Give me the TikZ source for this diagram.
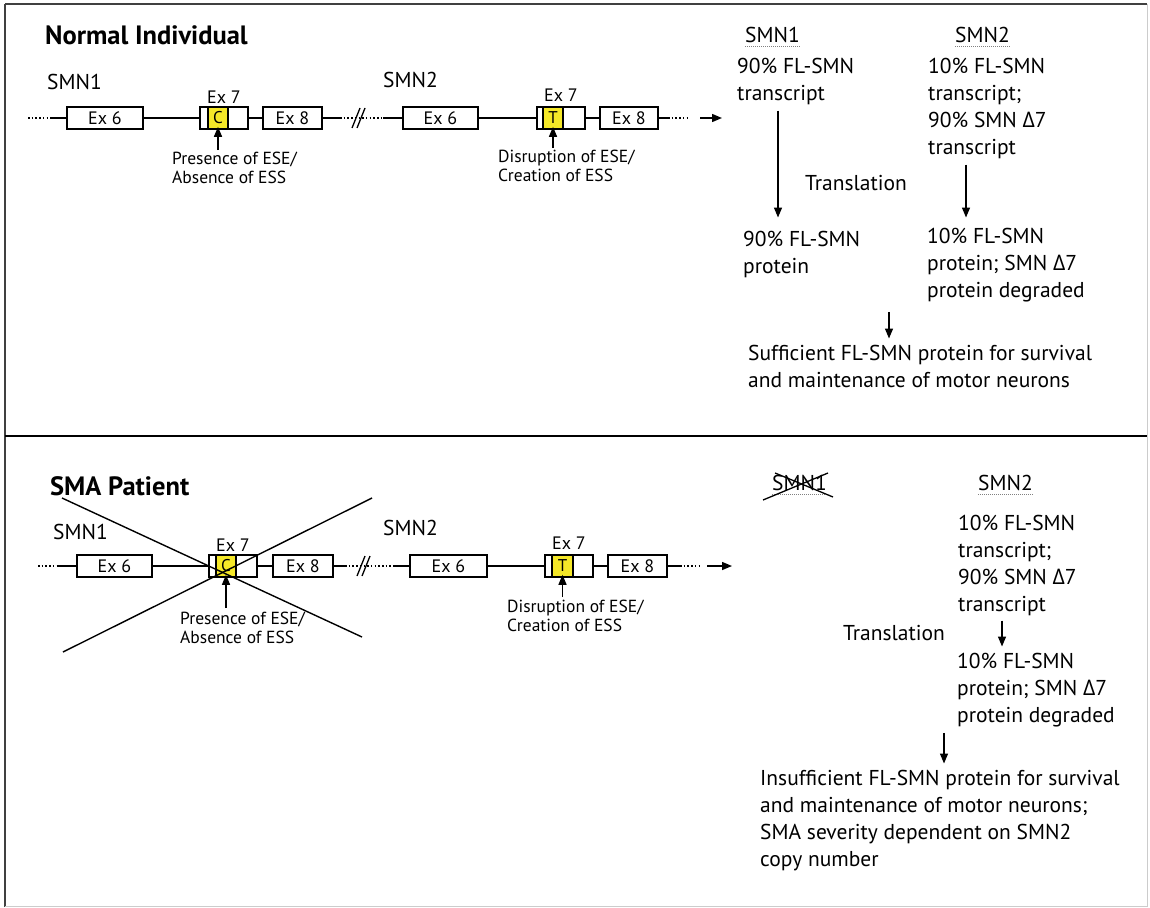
\documentclass[tikz,border=0pt]{standalone}
\usepackage{fontspec}
\setmainfont{PT Sans}
\newfontfamily\dfont{Open Sans}
\usetikzlibrary{arrows.meta}
\definecolor{exy}{RGB}{245,232,40}
\newcommand\dlt{{\dfont Δ}}
\begin{document}
\begin{tikzpicture}[x=1pt,y=-1pt,
  exon/.style={draw, line width=1.3pt, minimum height=22pt, inner sep=0, font=\fontsize{18}{20}\selectfont},
  base/.style={draw, fill=exy, line width=1.6pt, minimum height=22pt, inner sep=0, font=\fontsize{17}{19}\selectfont},
  gline/.style={line width=1.3pt},
  dline/.style={line width=1.3pt, dash pattern=on 1.5pt off 2.2pt},
  arr/.style={line width=1.4pt, -{Triangle[length=10pt,width=8pt]}},
  big/.style={font=\fontsize{21.5}{27}\selectfont, inner sep=0, align=left, anchor=north west},
  lbl/.style={font=\fontsize{21.5}{27}\selectfont, inner sep=0, anchor=west},
  small/.style={font=\fontsize{17.5}{19}\selectfont, inner sep=0, align=left, anchor=north west},
  exlab/.style={font=\fontsize{18}{20}\selectfont, inner sep=0},
  title/.style={font=\fontsize{26.5}{30}\selectfont\bfseries, inner sep=0, anchor=west},
  uline/.style={gray, line width=1pt, dash pattern=on 1pt off 1pt},
  frame/.style={line width=2pt, black!75},
  light/.style={line width=1pt, black!20}
]
\useasboundingbox (0,0) rectangle (1150,907);
\fill[white] (0,0) rectangle (1150,907);
% frame
\draw[frame] (5,4) -- (1147,4);
\draw[frame] (5,4) -- (5,907);
\draw[line width=2pt, black] (5,436) -- (1147,436);
\draw[light] (1147,4) -- (1147,907);
\draw[light] (5,906) -- (1147,906);

%================ TOP PANEL ================
\node[title] (ttl1) at (45,35) {Normal Individual};
\node[lbl] (g1) at (47,82) {SMN1};
\node[lbl] (g2) at (383,80) {SMN2};

% SMN1 gene
\node[exon, minimum width=76pt] (a6) at (105,118) {Ex 6};
\node[exon, minimum width=48pt] (a7) at (224,118) {};
\node[base, minimum width=20pt] (ac) at (218,118) {C};
\node[exon, minimum width=59pt] (a8) at (292.5,118) {Ex 8};
\node[exlab] (a7l) at (224,97) {Ex 7};
\coordinate (a0) at (28,118); \coordinate (a1) at (50,118);
\draw[dline] (a0) -- (a1); \draw[gline] (a1) -- (a6.west);
\draw[gline] (a6.east) -- (a7.west);
\draw[gline] (a7.east) -- (a8.west);
\coordinate (a9) at (340,118); \coordinate (a10) at (383,118);
% SMN2 gene
\node[exon, minimum width=75pt] (b6) at (440.5,118) {Ex 6};
\node[exon, minimum width=48pt] (b7) at (561,118) {};
\node[base, minimum width=20pt] (bt) at (553,118) {T};
\node[exon, minimum width=58pt] (b8) at (629,118) {Ex 8};
\node[exlab] (b7l) at (561,95) {Ex 7};
\draw[gline] (a8.east) -- (a9); \draw[dline] (a9) -- (a10); \draw[gline] (a10) -- (b6.west);
\draw[gline] (352,128) -- (360,108);
\draw[gline] (357,128) -- (365,108);
\draw[gline] (b6.east) -- (b7.west);
\draw[gline] (b7.east) -- (b8.west);
\coordinate (b9) at (668,118); \coordinate (b10) at (690,118);
\coordinate (b11) at (700,118); \coordinate (b12) at (722,118);
\draw[gline] (b8.east) -- (b9); \draw[dline] (b9) -- (b10);
\draw[arr] (b11) -- (b12);
% annotations
\node[small] (an1) at (172,152) {Presence of ESE/\\Absence of ESS};
\coordinate (an1a) at (218,150);
\draw[arr] (an1a) -- ([yshift=3pt]ac.south);
\node[small] (an2) at (498,150) {Disruption of ESE/\\Creation of ESS};
\coordinate (an2a) at (553,148);
\draw[arr] (an2a) -- ([yshift=3pt]bt.south);

% right side
\node[lbl] (h1) at (745,35) {SMN1};
\draw[uline] (h1.south west) ++(0,4) -- ++(56,0);
\node[lbl] (h2) at (955,35) {SMN2};
\draw[uline] (h2.south west) ++(0,4) -- ++(56,0);
\node[big] (t1) at (737,57.5) {90\% FL-SMN\\transcript};
\node[big] (t2) at (928,57.5) {10\% FL-SMN\\transcript;\\90\% SMN \dlt7\\transcript};
\node[lbl] (tr1) at (805,183) {Translation};
\node[big] (p1) at (743,230.5) {90\% FL-SMN\\protein};
\node[big] (p2) at (927,227.5) {10\% FL-SMN\\protein; SMN \dlt7\\protein degraded};
\node[big] (s1) at (748,344.5) {Sufficient FL-SMN protein for survival\\and maintenance of motor neurons};
\coordinate (x1) at (778,0); \coordinate (x2) at (966,0); \coordinate (x3) at (889,0);
\draw[arr, shorten <=6pt, shorten >=13pt] (t1.south -| x1) -- (p1.north -| x1);
\draw[arr, shorten <=6pt, shorten >=10pt] (t2.south -| x2) -- (p2.north -| x2);
\draw[arr, shorten <=10pt, shorten >=6pt] (p2.south -| x3) -- (s1.north -| x3);

%================ BOTTOM PANEL ================
\node[title] (ttl2) at (50,486) {SMA Patient};
\node[lbl] (g3) at (53,532) {SMN1};
\node[lbl] (g4) at (383,528) {SMN2};

\node[exon, minimum width=75pt] (c6) at (114.5,566) {Ex 6};
\node[exon, minimum width=48pt] (c7) at (233,566) {};
\node[base, minimum width=20pt] (cc) at (226,566) {C};
\node[exon, minimum width=60pt] (c8) at (303,566) {Ex 8};
\node[exlab] (c7l) at (233,545) {Ex 7};
\coordinate (c0) at (38,566); \coordinate (c1) at (58,566);
\draw[dline] (c0) -- (c1); \draw[gline] (c1) -- (c6.west);
\draw[gline] (c6.east) -- (c7.west);
\draw[gline] (c7.east) -- (c8.west);
\coordinate (c9) at (345,566); \coordinate (c10) at (393,566);

\node[exon, minimum width=77pt] (d6) at (448.5,566) {Ex 6};
\node[exon, minimum width=48pt] (d7) at (569,566) {};
\node[base, minimum width=21pt] (dt) at (562.5,566) {T};
\node[exon, minimum width=59pt] (d8) at (637.5,566) {Ex 8};
\node[exlab] (d7l) at (569,543) {Ex 7};
\draw[gline] (c8.east) -- (c9); \draw[dline] (c9) -- (c10); \draw[gline] (c10) -- (d6.west);
\draw[gline] (357,576) -- (365,556);
\draw[gline] (362,576) -- (370,556);
\draw[gline] (d6.east) -- (d7.west);
\draw[gline] (d7.east) -- (d8.west);
\coordinate (d9) at (680,566); \coordinate (d10) at (700,566);
\coordinate (d11) at (707,566); \coordinate (d12) at (732,566);
\draw[gline] (d8.east) -- (d9); \draw[dline] (d9) -- (d10);
\draw[arr] (d11) -- (d12);

\node[small] (an3) at (180,612) {Presence of ESE/\\Absence of ESS};
\coordinate (an3a) at (226,608);
\draw[arr] (an3a) -- ([yshift=3pt]cc.south);
\node[small] (an4) at (507,600) {Disruption of ESE/\\Creation of ESS};
\coordinate (an4a) at (562.5,597);
\draw[arr] (an4a) -- ([yshift=3pt]dt.south);

% big cross over SMN1
\draw[line width=1.4pt] (62,498) -- (362,637);
\draw[line width=1.4pt] (63,652) -- (372,498);

% right side
\node[lbl] (h3) at (772,483) {SMN1};
\draw[uline] (h3.south west) ++(0,4) -- ++(56,0);
\draw[line width=1.3pt] (775,473) -- (833,497);
\draw[line width=1.3pt] (763,500) -- (828,473);
\node[lbl] (h4) at (978,483) {SMN2};
\draw[uline] (h4.south west) ++(0,4) -- ++(56,0);
\node[big] (t3) at (958,514.5) {10\% FL-SMN\\transcript;\\90\% SMN \dlt7\\transcript};
\node[lbl] (tr2) at (843,633) {Translation};
\node[big] (p3) at (957,652.5) {10\% FL-SMN\\protein; SMN \dlt7\\protein degraded};
\node[big] (s2) at (760,769.5) {Insufficient FL-SMN protein for survival\\and maintenance of motor neurons;\\SMA severity dependent on SMN2\\copy number};
\coordinate (x4) at (1002,0); \coordinate (x5) at (944,0);
\draw[arr, shorten <=5pt, shorten >=6pt] (t3.south -| x4) -- (p3.north -| x4);
\draw[arr, shorten <=6pt, shorten >=6pt] (p3.south -| x5) -- (s2.north -| x5);
\end{tikzpicture}
\end{document}
